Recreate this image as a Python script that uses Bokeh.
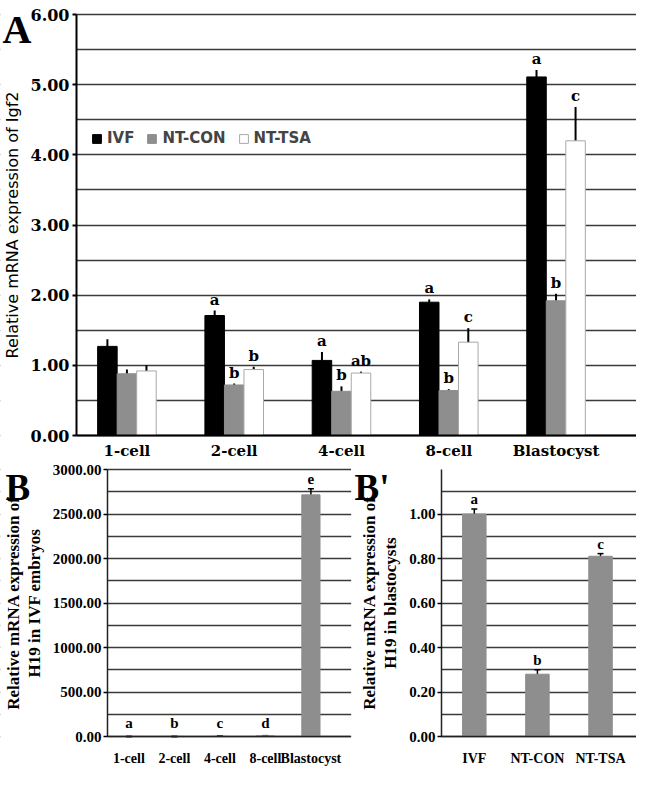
import numpy as np
from bokeh.plotting import figure
from bokeh.models import (ColumnDataSource, Whisker, Label, Range1d, SingleIntervalTicker,
                          FixedTicker, Legend, LegendItem, TeeHead, PrintfTickFormatter,
                          BoxAnnotation)
from bokeh.layouts import column, row
from bokeh.embed import file_html
from bokeh.resources import INLINE
from bokeh.core.properties import value

# ---------------- data ----------------
stages = ["1-cell", "2-cell", "4-cell", "8-cell", "Blastocyst"]
ivf = [1.27, 1.71, 1.07, 1.90, 5.11]
ivf_err = [0.10, 0.07, 0.12, 0.04, 0.10]
ivf_sig = ["", "a", "a", "a", "a"]
ntcon = [0.88, 0.72, 0.63, 0.64, 1.92]
ntcon_err = [0.06, 0.02, 0.07, 0.02, 0.10]
ntcon_sig = ["", "b", "b", "b", "b"]
nttsa = [0.92, 0.94, 0.89, 1.33, 4.20]
nttsa_err = [0.08, 0.04, 0.02, 0.20, 0.48]
nttsa_sig = ["", "b", "ab", "c", "c"]

h19_ivf = [1.0, 1.2, 1.8, 8.0, 2715.0]
h19_ivf_err = [0.1, 0.2, 0.3, 1.5, 70.0]
h19_ivf_sig = ["a", "b", "c", "d", "e"]

groups = ["IVF", "NT-CON", "NT-TSA"]
h19_blast = [1.00, 0.28, 0.81]
h19_blast_err = [0.022, 0.02, 0.012]
h19_blast_sig = ["a", "b", "c"]

SERIF_A = "DejaVu Serif"
SERIF = "Liberation Serif"
SANS = "DejaVu Sans"
GRAY = "#8e8e8e"
GRID = "#3a3a3a"


def make_fig(width, height, left_px, right_px, top_px, bottom_px, xb, yb):
    """Figure whose frame fills the canvas; axes sit at fixed locations so that
    the panel letters (drawn inside the frame) are not clipped."""
    x0, x1 = xb
    y0, y1 = yb
    sx = (right_px - left_px) / (x1 - x0)
    sy = (bottom_px - top_px) / (y1 - y0)
    xr = Range1d(x0 - left_px / sx, x1 + (width - right_px) / sx)
    yr = Range1d(y0 - (height - bottom_px) / sy, y1 + top_px / sy)
    p = figure(width=width, height=height, x_range=xr, y_range=yr,
               output_backend="svg", toolbar_location=None,
               min_border=0, min_border_left=0, min_border_right=0,
               min_border_top=0, min_border_bottom=0)
    p.outline_line_color = None
    p.xaxis.fixed_location = y0
    p.xaxis.bounds = (x0, x1)
    p.yaxis.fixed_location = x0
    p.yaxis.bounds = (y0, y1)
    p.ygrid.bounds = (y0, y1)
    p.xgrid.visible = False
    p.add_layout(BoxAnnotation(right=x0, fill_color="white", fill_alpha=1.0,
                               line_alpha=0, level="underlay"))
    return p


# ---------------- panel A ----------------
idx = np.arange(len(stages))
bw = 0.182
pA = make_fig(636, 461, 76, 636, 14, 435, (-0.47, 4.75), (0, 6))

series = [("IVF", ivf, ivf_err, ivf_sig, "black", "black", -bw),
          ("NT-CON", ntcon, ntcon_err, ntcon_sig, GRAY, GRAY, 0.0),
          ("NT-TSA", nttsa, nttsa_err, nttsa_sig, "white", "#a8a8a8", bw)]
items = []
for name, vals, err, sig, fc, lc, off in series:
    v = np.array(vals); e = np.array(err)
    src = ColumnDataSource(dict(x=idx + off, top=v, upper=v + e, lower=v - e, sig=sig))
    r = pA.vbar(x="x", top="top", width=bw, fill_color=fc, line_color=lc, line_width=1, source=src)
    items.append(LegendItem(label=name, renderers=[r]))
    pA.add_layout(Whisker(source=src, base="x", upper="upper", lower="lower",
                          line_color="black", line_width=2, upper_head=None, lower_head=None))
    pA.text(x="x", y="upper", text="sig", source=src, text_align="center", text_baseline="bottom",
            y_offset=-2, text_font=value(SERIF_A), text_font_style="bold",
            text_font_size="15px", text_color="black")

pA.xaxis.ticker = FixedTicker(ticks=list(range(len(stages))))
pA.xaxis.major_label_overrides = {i: s for i, s in enumerate(stages)}
pA.xaxis.major_tick_line_color = None
pA.xaxis.minor_tick_line_color = None
pA.xaxis.axis_line_width = 2
pA.xaxis.axis_line_color = "black"
pA.xaxis.major_label_standoff = 0
pA.xaxis.major_label_text_font = SERIF_A
pA.xaxis.major_label_text_font_style = "bold"
pA.xaxis.major_label_text_font_size = "15px"
pA.xaxis.major_label_text_color = "black"

pA.yaxis.ticker = SingleIntervalTicker(interval=1, num_minor_ticks=0)
pA.yaxis.formatter = PrintfTickFormatter(format="%.2f")
pA.yaxis.minor_tick_line_color = None
pA.yaxis.major_tick_out = 4
pA.yaxis.major_tick_in = 0
pA.yaxis.major_tick_line_width = 2
pA.yaxis.axis_line_width = 2
pA.yaxis.axis_line_color = "black"
pA.yaxis.major_label_standoff = 3
pA.yaxis.major_label_text_font = SERIF_A
pA.yaxis.major_label_text_font_style = "bold"
pA.yaxis.major_label_text_font_size = "16px"
pA.yaxis.major_label_text_color = "black"
pA.yaxis.axis_label = "Relative mRNA expression of Igf2"
pA.yaxis.axis_label_text_font = SANS
pA.yaxis.axis_label_text_font_style = "normal"
pA.yaxis.axis_label_text_font_size = "16px"
pA.yaxis.axis_label_text_color = "black"
pA.yaxis.axis_label_standoff = 6
pA.ygrid.ticker = SingleIntervalTicker(interval=0.5)
pA.ygrid.grid_line_color = GRID
pA.ygrid.grid_line_width = 1.5

leg = Legend(items=items, orientation="horizontal", location=(91, 314), padding=0, margin=0,
             spacing=12, label_standoff=5, glyph_width=11, glyph_height=11, label_height=14,
             label_text_font=SANS, label_text_font_style="bold", label_text_font_size="15px",
             background_fill_alpha=0, border_line_alpha=0)
pA.add_layout(leg)
pA.add_layout(Label(x=2, y=432, x_units="screen", y_units="screen", text="A",
                    text_font=SERIF, text_font_style="bold", text_font_size="40px",
                    text_baseline="alphabetic", text_color="black"))


def style_b(p, label, tick_interval, grid_interval):
    p.xaxis.major_tick_line_color = None
    p.xaxis.minor_tick_line_color = None
    p.xaxis.axis_line_width = 1.5
    p.xaxis.axis_line_color = "#222222"
    p.xaxis.major_label_standoff = 8
    p.xaxis.major_label_text_font = SERIF
    p.xaxis.major_label_text_font_style = "bold"
    p.xaxis.major_label_text_font_size = "14px"
    p.xaxis.major_label_text_color = "black"
    p.yaxis.ticker = SingleIntervalTicker(interval=tick_interval, num_minor_ticks=0)
    p.yaxis.formatter = PrintfTickFormatter(format="%.2f")
    p.yaxis.minor_tick_line_color = None
    p.yaxis.major_tick_out = 4
    p.yaxis.major_tick_in = 0
    p.yaxis.major_tick_line_width = 1.5
    p.yaxis.axis_line_width = 1.5
    p.yaxis.axis_line_color = "#222222"
    p.yaxis.major_label_standoff = 2
    p.yaxis.major_label_text_font = SERIF
    p.yaxis.major_label_text_font_style = "bold"
    p.yaxis.major_label_text_font_size = "15px"
    p.yaxis.major_label_text_color = "black"
    p.yaxis.axis_label = label
    p.yaxis.axis_label_text_font = SERIF
    p.yaxis.axis_label_text_font_style = "bold"
    p.yaxis.axis_label_text_font_size = "17px"
    p.yaxis.axis_label_text_color = "black"
    p.yaxis.axis_label_text_line_height = 1.1
    p.yaxis.axis_label_standoff = 6
    p.ygrid.ticker = SingleIntervalTicker(interval=grid_interval)
    p.ygrid.grid_line_color = GRID
    p.ygrid.grid_line_width = 1.5


def bars_b(p, vals, err, sig, width, yoff):
    v = np.array(vals); e = np.array(err)
    src = ColumnDataSource(dict(x=np.arange(len(vals)), top=v, upper=v + e, lower=v - e, sig=sig))
    p.vbar(x="x", top="top", width=width, fill_color=GRAY, line_color=GRAY, source=src)
    p.add_layout(Whisker(source=src, base="x", upper="upper", lower="lower",
                         line_color="black", line_width=1.5,
                         upper_head=TeeHead(size=6, line_width=1.5, line_color="black"),
                         lower_head=TeeHead(size=6, line_width=1.5, line_color="black")))
    p.text(x="x", y="upper", text="sig", source=src, text_align="center", text_baseline="bottom",
           y_offset=yoff, text_font=value(SERIF), text_font_style="bold",
           text_font_size="15px", text_color="black")


# ---------------- panel B ----------------
pB = make_fig(351, 311, 107, 350, 8, 275, (-0.47, 4.87), (0, 3000))
bars_b(pB, h19_ivf, h19_ivf_err, h19_ivf_sig, 0.4, -5)
style_b(pB, "Relative mRNA expression of\nH19 in IVF embryos", 500, 250)
pB.xaxis.ticker = FixedTicker(ticks=list(range(len(stages))))
pB.xaxis.major_label_overrides = {i: s for i, s in enumerate(stages)}
pB.add_layout(Label(x=5, y=285, x_units="screen", y_units="screen", text="B",
                    text_font=SERIF, text_font_style="bold", text_font_size="37px",
                    text_baseline="alphabetic", text_color="black"))

# ---------------- panel B' ----------------
pBp = make_fig(285, 311, 90, 285, 8, 275, (-0.52, 2.57), (0, 1.2))
bars_b(pBp, h19_blast, h19_blast_err, h19_blast_sig, 0.372, -2)
style_b(pBp, "Relative mRNA expression of\nH19 in blastocysts", 0.2, 0.1)
pBp.xaxis.ticker = FixedTicker(ticks=list(range(len(groups))))
pBp.xaxis.major_label_overrides = {i: s for i, s in enumerate(groups)}
pBp.add_layout(Label(x=3, y=285, x_units="screen", y_units="screen", text="B'",
                     text_font=SERIF, text_font_style="bold", text_font_size="37px",
                     text_baseline="alphabetic", text_color="black"))

layout = column(pA, row(pB, pBp))
open("out.html", "w").write(file_html(layout, INLINE))
